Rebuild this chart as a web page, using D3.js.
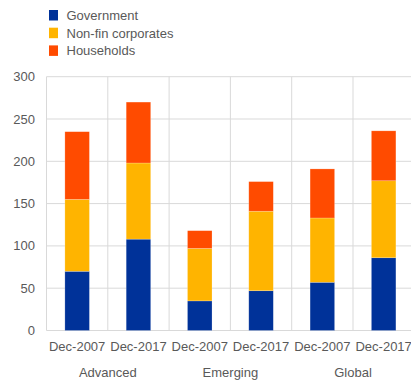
<!DOCTYPE html>
<html><head><meta charset="utf-8">
<script src="https://cdn.jsdelivr.net/npm/d3@7"></script>
<style>body{margin:0;background:#fff;}svg{display:block;font-family:"Liberation Sans",Arial,sans-serif;}</style>
</head><body>
<svg id="c" width="411" height="383"></svg>
<script>
const categories = ["Dec-2007","Dec-2017","Dec-2007","Dec-2017","Dec-2007","Dec-2017"];
const groups = ["Advanced","Emerging","Global"];
const seriesNames = ["Government","Non-fin corporates","Households"];
const government = [70, 108, 35, 47, 57, 86];
const corporates = [85, 90, 62, 94, 76, 91];
const households = [80, 72, 21, 35, 58, 59];
const yTicks = [0,50,100,150,200,250,300];
const colors = ["#003299","#FFB400","#FF4B00"];

const svg = d3.select("#c");
const m = {l:46.5, t:76.7, b:330.5};
const bandW = 61.3;
const x = d3.scaleBand().domain(d3.range(categories.length)).range([m.l, m.l + bandW*categories.length]).paddingInner(0).paddingOuter(0);
const y = d3.scaleLinear().domain([0,300]).range([m.b, m.t]);
const textCol = "#595959";

// horizontal gridlines
svg.append("g").selectAll("line").data(yTicks).join("line")
  .attr("x1", m.l).attr("x2", 415)
  .attr("y1", d=>y(d)).attr("y2", d=>y(d))
  .attr("stroke", "#d9d9d9").attr("stroke-width", 1);
// vertical gridlines
svg.append("g").selectAll("line").data(d3.range(categories.length+1)).join("line")
  .attr("x1", d=>m.l + d*bandW).attr("x2", d=>m.l + d*bandW)
  .attr("y1", m.t).attr("y2", m.b)
  .attr("stroke", "#d9d9d9").attr("stroke-width", 1);

// y tick labels
svg.append("g").selectAll("text").data(yTicks).join("text")
  .attr("x", 35).attr("y", d=>y(d)+4.5)
  .attr("text-anchor","end").attr("font-size",13).attr("fill",textCol)
  .text(d=>d);

// stacked data
const rows = categories.map((c,i)=>({i, Government:government[i], "Non-fin corporates":corporates[i], Households:households[i]}));
const stack = d3.stack().keys(seriesNames)(rows);
const bw = x.bandwidth()*0.4;
svg.append("g").selectAll("g").data(stack).join("g")
  .attr("fill",(d,k)=>colors[k])
  .selectAll("rect").data(d=>d).join("rect")
  .attr("x", d=>x(d.data.i) + (x.bandwidth()-bw)/2)
  .attr("width", bw)
  .attr("y", d=>y(d[1]))
  .attr("height", d=>y(d[0])-y(d[1]))
  .attr("stroke","rgba(255,255,255,0.35)").attr("stroke-width",0.6);

// x tick labels
svg.append("g").selectAll("text").data(categories).join("text")
  .attr("x",(d,i)=>x(i)+x.bandwidth()/2).attr("y",351)
  .attr("text-anchor","middle").attr("font-size",13).attr("fill",textCol)
  .text(d=>d);
// group labels
svg.append("g").selectAll("text").data(groups).join("text")
  .attr("x",(d,g)=>x(g*2)+x.bandwidth())
  .attr("y",377)
  .attr("text-anchor","middle").attr("font-size",13).attr("fill",textCol)
  .text(d=>d);

// legend
const lg = svg.append("g").selectAll("g").data(seriesNames).join("g")
  .attr("transform",(d,k)=>`translate(49,${10 + k*17.7})`);
lg.append("rect").attr("width",9).attr("height",10.5).attr("fill",(d,k)=>colors[k]);
lg.append("text").attr("x",17.5).attr("y",10).attr("font-size",13).attr("fill",textCol).text(d=>d);
</script>
</body></html>
